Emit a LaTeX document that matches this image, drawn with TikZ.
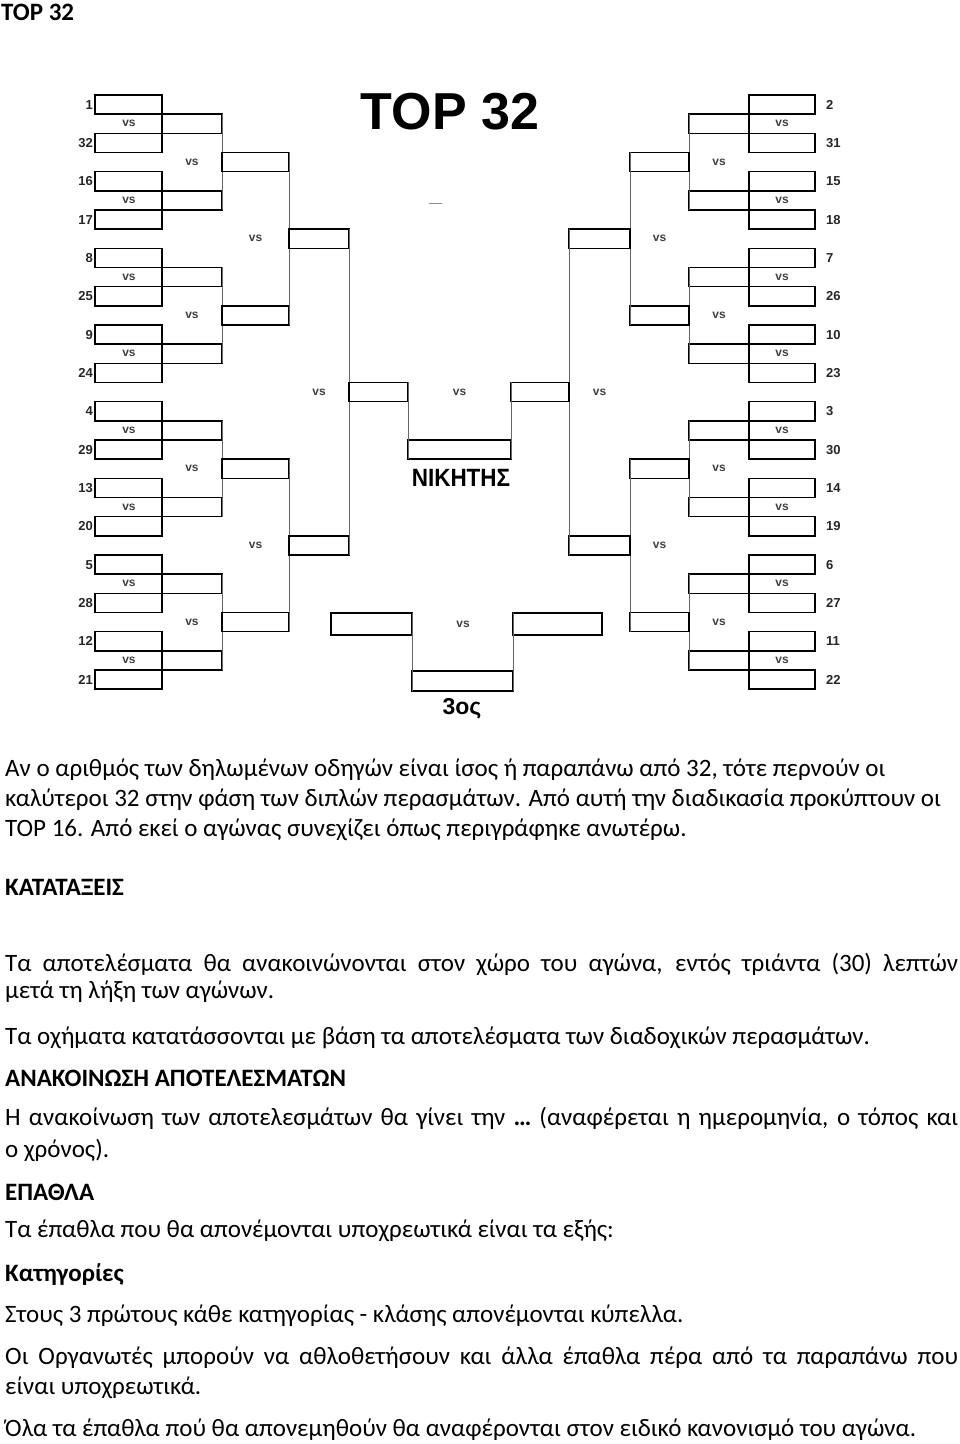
\documentclass[tikz,border=0pt]{standalone}
\usepackage{fontspec}
\setmainfont{Carlito}
\newfontfamily\arialfont{Liberation Sans}
\newcommand\rh{19.1667}

\begin{document}
\begin{tikzpicture}[x=1pt,y=-1pt,
  slot/.style={draw,line width=1.5pt,inner sep=0pt,outer sep=0pt,minimum height=19.2pt},
  link/.style={line width=1pt,black!60},
  seed/.style={font=\arialfont\bfseries\fontsize{13}{13}\selectfont,text=black!85,inner sep=0pt},
  vs/.style={font=\arialfont\bfseries\fontsize{12}{12}\selectfont,text=black!75,inner sep=0pt},
  txt/.style={anchor=base west,inner sep=0pt,font=\fontsize{25}{30}\selectfont},
  hd/.style={anchor=base west,inner sep=0pt,font=\fontsize{25}{30}\selectfont\bfseries}]
  \useasboundingbox (0,0) rectangle (960,1444);
  \node[hd] (top) at (1,20) {TOP 32};
  \node[font=\arialfont\bfseries\fontsize{52}{52}\selectfont,inner sep=0pt] (title) at (450,111.5) {TOP 32};
  \draw[black!45,line width=1pt] (429,203)--(442,203);
  % left half
  \foreach \s [count=\i from 0] in {1,32,16,17,8,25,9,24,4,29,13,20,5,28,12,21}{
    \node[slot,minimum width=67pt] (la\i) at (128.5,{95+(2*\i+0.5)*\rh}) {};
    \node[seed,anchor=east] (sa\i) at ([xshift=-2pt]la\i.west) {\s};}
  \foreach \k in {0,...,7}{
    \node[slot,minimum width=60pt] (lb\k) at (192,{95+(4*\k+1.5)*\rh}) {};
    \node[vs] (va\k) at (129,{95+(4*\k+1.5)*\rh}) {vs};}
  \foreach \j [evaluate=\j as \a using int(2*\j),evaluate=\j as \b using int(2*\j+1)] in {0,...,3}{
    \draw[link] (lb\a.north east)--(lb\b.south east);
    \node[slot,minimum width=67pt] (lc\j) at (255.5,{95+(8*\j+3.5)*\rh}) {};
    \node[vs] (vb\j) at (192,{95+(8*\j+3.5)*\rh}) {vs};}
  \foreach \j [evaluate=\j as \a using int(2*\j),evaluate=\j as \b using int(2*\j+1)] in {0,1}{
    \draw[link] (lc\a.north east)--(lc\b.south east);
    \node[slot,minimum width=60pt] (ld\j) at (319,{95+(16*\j+7.5)*\rh}) {};
    \node[vs] (vc\j) at (255.5,{95+(16*\j+7.5)*\rh}) {vs};}
  \draw[link] (ld0.north east)--(ld1.south east);
  \node[slot,minimum width=59pt] (le) at (378.5,{95+15.5*\rh}) {};
  \node[vs] (vd) at (319,{95+15.5*\rh}) {vs};
  % right half
  \foreach \s [count=\i from 0] in {2,31,15,18,7,26,10,23,3,30,14,19,6,27,11,22}{
    \node[slot,minimum width=66pt] (ra\i) at (782,{95+(2*\i+0.5)*\rh}) {};
    \node[seed,anchor=west] (sb\i) at ([xshift=11pt]ra\i.east) {\s};}
  \foreach \k in {0,...,7}{
    \node[slot,minimum width=60pt] (rb\k) at (719,{95+(4*\k+1.5)*\rh}) {};
    \node[vs] (wa\k) at (782,{95+(4*\k+1.5)*\rh}) {vs};}
  \foreach \j [evaluate=\j as \a using int(2*\j),evaluate=\j as \b using int(2*\j+1)] in {0,...,3}{
    \draw[link] (rb\a.north west)--(rb\b.south west);
    \node[slot,minimum width=59pt] (rc\j) at (659.5,{95+(8*\j+3.5)*\rh}) {};
    \node[vs] (wb\j) at (719,{95+(8*\j+3.5)*\rh}) {vs};}
  \foreach \j [evaluate=\j as \a using int(2*\j),evaluate=\j as \b using int(2*\j+1)] in {0,1}{
    \draw[link] (rc\a.north west)--(rc\b.south west);
    \node[slot,minimum width=61pt] (rd\j) at (599.5,{95+(16*\j+7.5)*\rh}) {};
    \node[vs] (wc\j) at (659.5,{95+(16*\j+7.5)*\rh}) {vs};}
  \draw[link] (rd0.north west)--(rd1.south west);
  \node[slot,minimum width=58pt] (re) at (540,{95+15.5*\rh}) {};
  \node[vs] (wd) at (599.5,{95+15.5*\rh}) {vs};
  % final and third place
  \node[slot,minimum width=103pt] (fin) at (459.5,{95+18.5*\rh}) {};
  \draw[link] (le.north east)--(fin.south west);
  \draw[link] (re.north west)--(fin.south east);
  \node[vs] (vf) at (459.5,{95+15.5*\rh}) {vs};
  \node[font=\arialfont\bfseries\fontsize{25}{25}\selectfont,xscale=0.9,inner sep=0pt] (win) at (461,478) {ΝΙΚΗΤΗΣ};
  \node[slot,minimum width=101pt,minimum height=20pt] (tb) at (462.5,681) {};
  \node[slot,minimum width=81pt,minimum height=22pt] (tl) at (371.5,624) {};
  \node[slot,minimum width=89pt,minimum height=22pt] (tr) at (557.5,624) {};
  \draw[link] (tl.north east)--(tb.south west);
  \draw[link] (tr.north west)--(tb.south east);
  \node[vs] (vt) at (463,624) {vs};
  \node[font=\arialfont\bfseries\fontsize{23}{23}\selectfont,inner sep=0pt] (third) at (462,709) {3ος};
  % text below
  \node[txt] (p1) at (5,776) {Αν ο αριθμός των δηλωμένων οδηγών είναι ίσος ή παραπάνω από 32, τότε περνούν οι};
  \node[txt] (p2) at (5,806) {καλύτεροι 32 στην φάση των διπλών περασμάτων. Από αυτή την διαδικασία προκύπτουν οι};
  \node[txt] (p3) at (5,836) {TOP 16. Από εκεί ο αγώνας συνεχίζει όπως περιγράφηκε ανωτέρω.};
  \node[hd] (h1) at (5,895) {ΚΑΤΑΤΑΞΕΙΣ};
  \node[txt] (p4) at (5,971) {\makebox[953pt][s]{Τα αποτελέσματα θα ανακοινώνονται στον χώρο του αγώνα, εντός τριάντα (30) λεπτών}};
  \node[txt] (p5) at (5,998) {μετά τη λήξη των αγώνων.};
  \node[txt] (p6) at (5,1044) {Τα οχήματα κατατάσσονται με βάση τα αποτελέσματα των διαδοχικών περασμάτων.};
  \node[hd] (h2) at (5,1086) {ΑΝΑΚΟΙΝΩΣΗ ΑΠΟΤΕΛΕΣΜΑΤΩΝ};
  \node[txt] (p7) at (5,1125) {\makebox[953pt][s]{Η ανακοίνωση των αποτελεσμάτων θα γίνει την \textbf{…} (αναφέρεται η ημερομηνία, ο τόπος και}};
  \node[txt] (p8) at (5,1157) {ο χρόνος).};
  \node[hd] (h3) at (5,1200) {ΕΠΑΘΛΑ};
  \node[txt] (p9) at (5,1237) {Τα έπαθλα που θα απονέμονται υποχρεωτικά είναι τα εξής:};
  \node[hd] (h4) at (5,1281) {Κατηγορίες};
  \node[txt] (p10) at (5,1322) {Στους 3 πρώτους κάθε κατηγορίας - κλάσης απονέμονται κύπελλα.};
  \node[txt] (p11) at (5,1364) {\makebox[953pt][s]{Οι Οργανωτές μπορούν να αθλοθετήσουν και άλλα έπαθλα πέρα από τα παραπάνω που}};
  \node[txt] (p12) at (5,1394) {είναι υποχρεωτικά.};
  \node[txt] (p13) at (5,1436) {Όλα τα έπαθλα πού θα απονεμηθούν θα αναφέρονται στον ειδικό κανονισμό του αγώνα.};
\end{tikzpicture}
\end{document}
